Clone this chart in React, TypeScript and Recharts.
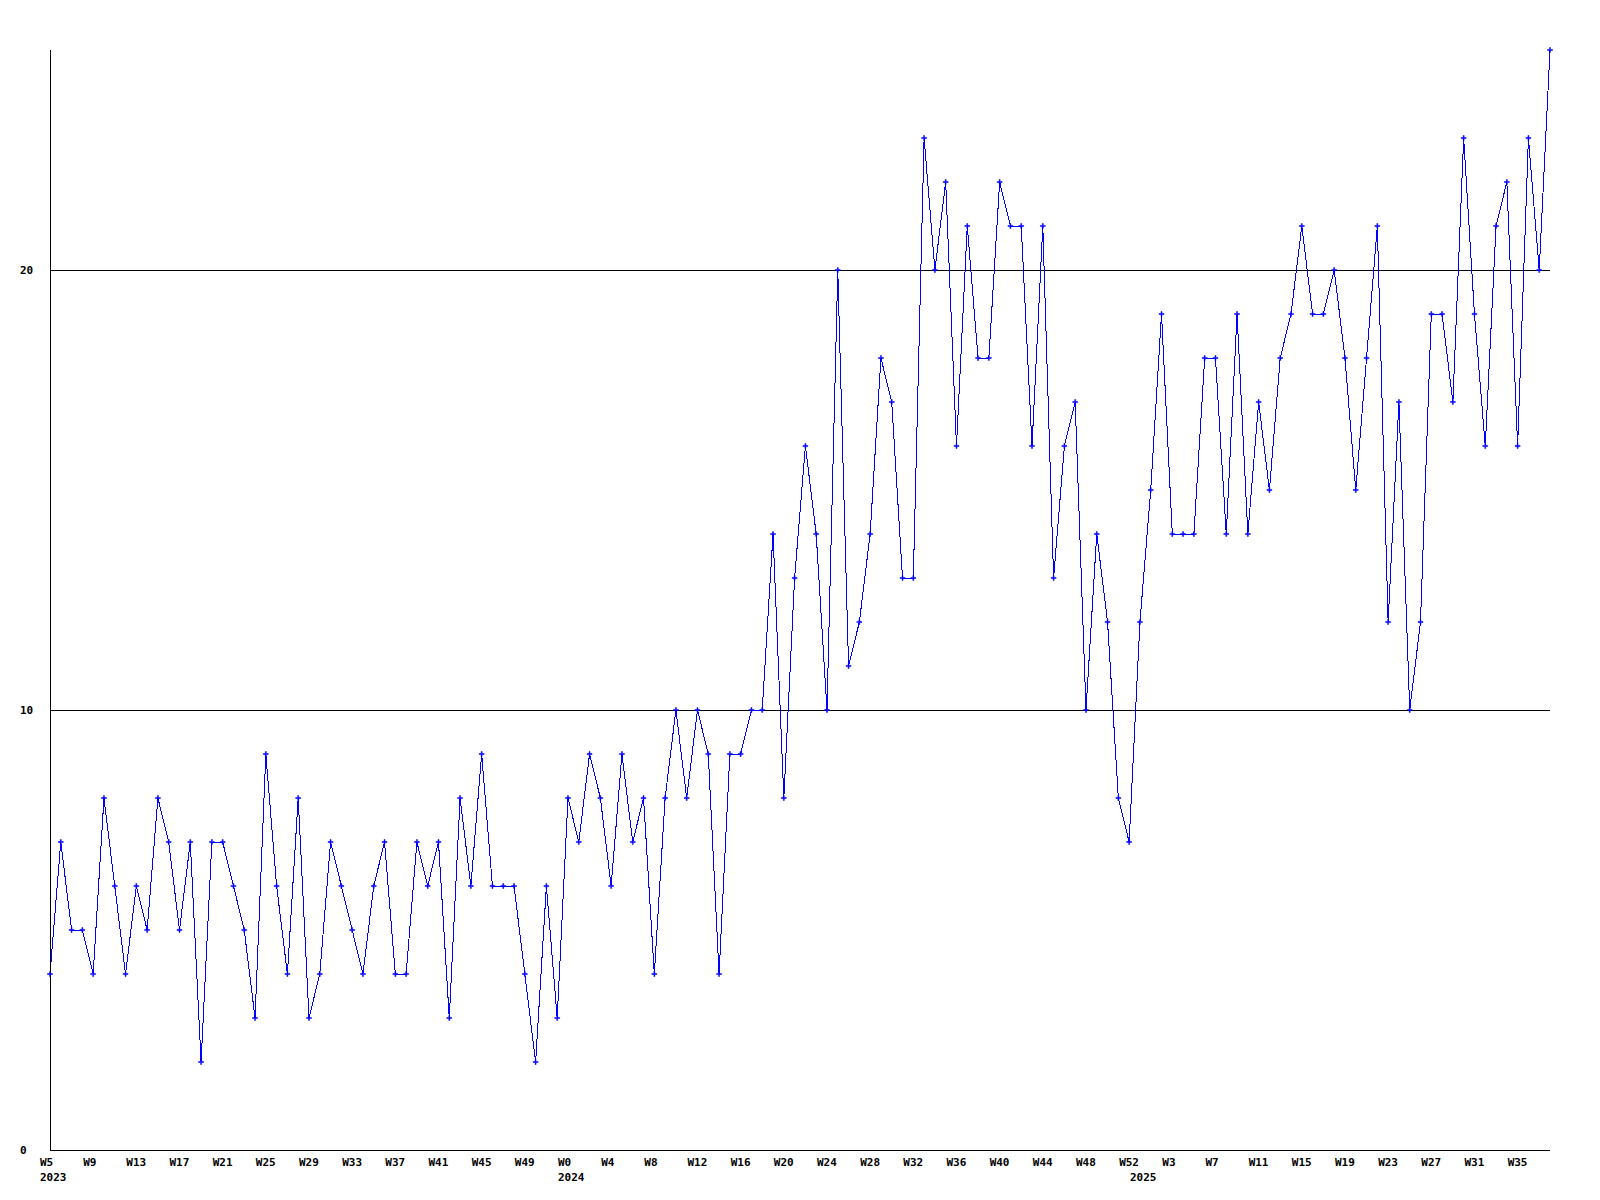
import { CartesianGrid, Line, LineChart, XAxis, YAxis } from 'recharts';

// weekly counts, first week of each year given separately
const firstWeek2023 = 5;
const counts2023 = [
  4, 7, 5, 5, 4, 8, 6, 4, 6, 5, 8, 7, 5, 7, 2, 7, 7, 6, 5, 3, 9, 6, 4, 8, 3, 4, 7, 6, 5, 4, 6, 7, 4, 4, 7, 6,
  7, 3, 8, 6, 9, 6, 6, 6, 4, 2, 6, 3,
];
const firstWeek2024 = 0;
const counts2024 = [
  8, 7, 9, 8, 6, 9, 7, 8, 4, 8, 10, 8, 10, 9, 4, 9, 9, 10, 10, 14, 8, 13, 16, 14, 10, 20, 11, 12, 14, 18, 17,
  13, 13, 23, 20, 22, 16, 21, 18, 18, 22, 21, 21, 16, 21, 13, 16, 17, 10, 14, 12, 8, 7,
];
const firstWeek2025 = 0;
const counts2025 = [
  12, 15, 19, 14, 14, 14, 18, 18, 14, 19, 14, 17, 15, 18, 19, 21, 19, 19, 20, 18, 15, 18, 21, 12, 17, 10, 12,
  19, 19, 17, 23, 19, 16, 21, 22, 16, 23, 20, 25,
];

const yTicks = [0, 10, 20];
const gridValues = [10, 20];

type Point = { i: number; week: number; year: number; count: number };

const data: Point[] = [];
const yearStarts: Record<number, number> = {};
[
  { year: 2023, first: firstWeek2023, counts: counts2023 },
  { year: 2024, first: firstWeek2024, counts: counts2024 },
  { year: 2025, first: firstWeek2025, counts: counts2025 },
].forEach(({ year, first, counts }) => {
  yearStarts[data.length] = year;
  counts.forEach((count, k) => {
    data.push({ i: data.length, week: first + k, year, count });
  });
});

const xTicks = data.filter((d) => d.i % 4 === 0 || yearStarts[d.i] !== undefined).map((d) => d.i);

const font = { fontFamily: '"DejaVu Sans Mono", monospace', fontWeight: 700, fontSize: 11 };

function WeekTick(props: any) {
  const { x, y, payload } = props;
  const i = payload.value as number;
  const year = yearStarts[i];
  return (
    <g>
      {i % 4 === 0 && (
        <text x={x - 10} y={y + 12} dy="0.35em" textAnchor="start" fill="#000" style={font}>
          {`W${data[i].week}`}
        </text>
      )}
      {year !== undefined && (
        <text x={x - 10} y={y + 27} dy="0.35em" textAnchor="start" fill="#000" style={font}>
          {year}
        </text>
      )}
    </g>
  );
}

function CountTick(props: any) {
  const { y, payload } = props;
  return (
    <text x={20} y={y} dy="0.35em" textAnchor="start" fill="#000" style={font}>
      {payload.value}
    </text>
  );
}

function PlusDot(props: any) {
  const { cx, cy } = props;
  if (cx == null || cy == null) return null;
  return (
    <path
      d={`M${cx - 2.5},${cy - 0.5}h2v-2h1v2h2v1h-2v2h-1v-2h-2z`}
      fill="#0000ff"
      stroke="#0000ff"
      strokeWidth={0.5}
    />
  );
}

export default function App() {
  return (
    <div style={{ position: 'absolute', left: 0, top: 0, background: '#fff' }}>
      <LineChart width={1600} height={1200} data={data} margin={{ top: 50, right: 50, left: 0, bottom: 0 }}>
        <CartesianGrid
          vertical={false}
          horizontalValues={gridValues}
          stroke="#000"
          strokeDasharray=""
          shapeRendering="crispEdges"
        />
        <XAxis
          dataKey="i"
          type="number"
          domain={[0, data.length - 1]}
          ticks={xTicks}
          interval={0}
          height={50}
          tickSize={0}
          tickMargin={0}
          tickLine={false}
          axisLine={{ stroke: '#000', shapeRendering: 'crispEdges' }}
          tick={<WeekTick />}
        />
        <YAxis
          type="number"
          domain={[0, 25]}
          ticks={yTicks}
          width={50}
          tickSize={0}
          tickLine={false}
          axisLine={{ stroke: '#000', shapeRendering: 'crispEdges' }}
          tick={<CountTick />}
        />
        <Line
          type="linear"
          dataKey="count"
          stroke="#0000ff"
          strokeWidth={1}
          shapeRendering="crispEdges"
          dot={<PlusDot />}
          activeDot={false}
          isAnimationActive={false}
        />
      </LineChart>
    </div>
  );
}
